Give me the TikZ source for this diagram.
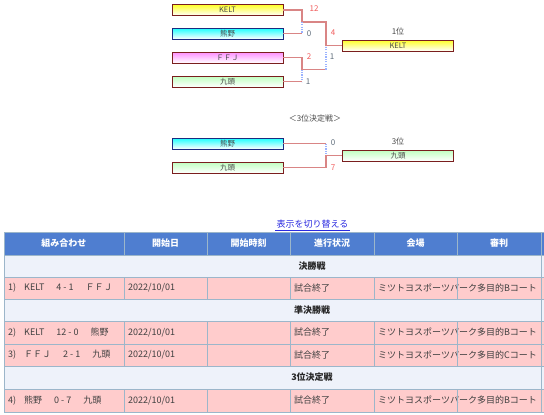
\documentclass[tikz,border=0pt]{standalone}
\usepackage{fontspec}
\setmainfont{Noto Sans CJK JP}
\definecolor{LineRed}{HTML}{D98585}
\definecolor{DotBlue}{HTML}{9BB3FF}
\definecolor{ScoreRed}{HTML}{F05A5A}
\definecolor{ScoreGray}{HTML}{5E6C7A}
\definecolor{HeadBlue}{HTML}{4F7ED0}
\definecolor{SecBg}{HTML}{EEF2FA}
\definecolor{RowPink}{HTML}{FFCCCC}
\definecolor{GridBlue}{HTML}{9CB6CA}
\definecolor{BoxRed}{HTML}{7A1E1E}
\definecolor{BoxNavy}{HTML}{1C2A80}
\definecolor{LinkBlue}{HTML}{2B2BE0}
\definecolor{TextGray}{HTML}{4A4A4A}
\usepackage{tikz}
\usetikzlibrary{positioning,calc}

\begin{document}
\begin{tikzpicture}[
  x=1pt, y=-1pt,
  team/.style={
    rectangle, draw=BoxRed, line width=0.9pt,
    minimum width=111pt, minimum height=11pt, inner sep=0pt,
    font=\fontsize{7.5}{7.5}\selectfont, text=TextGray,
  },
  keltbox/.style={team, top color=yellow!85!white, bottom color=white},
  kumabox/.style={team, draw=BoxNavy, top color=cyan!90!white, bottom color=white},
  ffjbox/.style={team, top color=magenta!45!white, bottom color=white},
  kyubox/.style={team, top color=green!25!white, bottom color=white},
  win/.style={draw=LineRed, line width=1.5pt},
  lose/.style={draw=DotBlue, line width=1.2pt, dash pattern=on 1.2pt off 1.2pt},
  score/.style={font=\fontsize{8}{8}\selectfont, inner sep=0pt},
  lbl/.style={font=\fontsize{8}{8}\selectfont, text=TextGray, inner sep=0pt},
  head/.style={font=\fontsize{9}{9}\selectfont\bfseries, text=white, inner sep=0pt},
  cell/.style={font=\fontsize{9}{9}\selectfont, text=black!75, inner sep=0pt, anchor=west},
  sect/.style={font=\fontsize{9}{9}\selectfont\bfseries, text=black!85, inner sep=0pt},
]
  \useasboundingbox (0,0) rectangle (544,415);

  % bracket
  \node[keltbox] (kelt)  at (227.5,10)   {KELT};
  \node[kumabox] (kuma)  at (227.5,33.5) {熊野};
  \node[ffjbox]  (ffj)   at (227.5,57.5) {ＦＦＪ};
  \node[kyubox]  (kyu)   at (227.5,81.5) {九頭};
  \node[keltbox] (champ) at (398,45.5)   {KELT};
  \node[lbl, above=4pt of champ] (first) {1位};

  \coordinate (m1) at (302,21.75);
  \coordinate (m2) at (302,69.5);
  \coordinate (f1) at (326,45.5);

  \draw[win]  (kelt.east) -| (m1) -| (f1) -- (champ.west);
  \draw[lose] (m1) -- (m1 |- kuma.east);
  \draw[win]  (kuma.east) -- (m1 |- kuma.east);
  \draw[win]  (ffj.east) -| (m2) -- (m2 -| f1);
  \draw[lose] (m2 -| f1) -- (f1);
  \draw[lose] (m2) -- (m2 |- kyu.east);
  \draw[win]  (kyu.east) -- (m2 |- kyu.east);

  \node[score, text=ScoreRed]  (s12) at (314,9)    {12};
  \node[score, text=ScoreGray] (s0)  at (309,33.5) {0};
  \node[score, text=ScoreRed]  (s4)  at (333,33)   {4};
  \node[score, text=ScoreRed]  (s2)  at (309,57)   {2};
  \node[score, text=ScoreGray] (s1a) at (332,57)   {1};
  \node[score, text=ScoreGray] (s1b) at (308,81.5) {1};

  % 3rd place match
  \node[lbl] (third) at (315,118) {＜3位決定戦＞};
  \node[kumabox] (kuma3) at (227.5,143.5) {熊野};
  \node[kyubox]  (kyu3)  at (227.5,167.5) {九頭};
  \node[kyubox]  (bronze) at (398,155.5)  {九頭};
  \node[lbl, above=4pt of bronze] (thirdpl) {3位};

  \coordinate (m3) at (326,155.5);
  \draw[win]  (kuma3.east) -- (m3 |- kuma3.east);
  \draw[lose] (m3 |- kuma3.east) -- (m3);
  \draw[win]  (kyu3.east) -| (m3) -- (bronze.west);
  \node[score, text=ScoreGray] (s0c) at (333,142.5) {0};
  \node[score, text=ScoreRed]  (s7)  at (333,167.5) {7};

  % link
  \node[font=\fontsize{9}{9}\selectfont, text=LinkBlue, inner sep=1pt] (switch) at (312.5,224) {表示を切り替える};
  \draw[LinkBlue, line width=0.6pt] ([yshift=-0.5pt]switch.south west) -- ([yshift=-0.5pt]switch.south east);

  % table
  \fill[HeadBlue] (4,232) rectangle (544,255);
  \foreach \ya/\yb in {255/277, 299/321, 366/389}
    \fill[SecBg] (4,\ya) rectangle (544,\yb);
  \foreach \ya/\yb in {277/299, 321/344, 344/366, 389/412}
    \fill[RowPink] (4,\ya) rectangle (544,\yb);

  \foreach \x/\t [count=\i] in {64/組み合わせ, 165.5/開始日, 248.5/開始時刻, 332/進行状況, 415.5/会場, 499/審判}
    \node[head] (h\i) at (\x,243.5) {\t};

  \node[sect] (final)  at (312,266) {決勝戦};
  \node[sect] (semi)   at (312,310) {準決勝戦};
  \node[sect] (bronz)  at (312,377.5) {3位決定戦};

  \foreach \n/\y/\pair/\court in {
      1/288/{1)\hspace{8pt}KELT\hspace{12pt}4 - 1\hspace{12pt}ＦＦＪ}/B,
      2/332.5/{2)\hspace{8pt}KELT\hspace{12pt}12 - 0\hspace{12pt}熊野}/B,
      3/355/{3)\hspace{8pt}ＦＦＪ\hspace{12pt}2 - 1\hspace{12pt}九頭}/C,
      4/400.5/{4)\hspace{8pt}熊野\hspace{12pt}0 - 7\hspace{12pt}九頭}/B}{
    \node[cell] (p\n)  at (8,\y)   {\pair};
    \node[cell] (d\n)  at (128,\y) {2022/10/01};
    \node[cell] (st\n) at (294,\y) {試合終了};
    \node[cell] (v\n)  at (378,\y) {ミツトヨスポーツパーク多目的\court コート};
  }

  % grid
  \begin{scope}[GridBlue, line width=0.8pt]
    \foreach \y in {232,255,277,299,321,344,366,389,412}
      \draw (4,\y) -- (544,\y);
    \draw (4,232) -- (4,412);
    \draw (541,232) -- (541,412);
    \foreach \x in {124,207,290,374,457}{
      \draw (\x,232) -- (\x,255);
      \draw (\x,277) -- (\x,299);
      \draw (\x,321) -- (\x,366);
      \draw (\x,389) -- (\x,412);
    }
  \end{scope}
\end{tikzpicture}
\end{document}
